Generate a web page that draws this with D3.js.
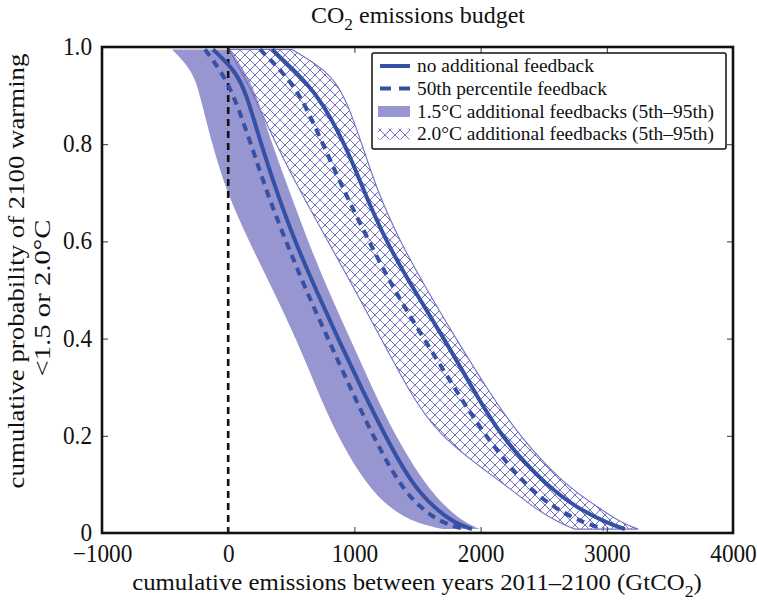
<!DOCTYPE html>
<html><head><meta charset="utf-8">
<script src="https://cdn.jsdelivr.net/npm/d3@7"></script>
<style>
html,body{margin:0;padding:0;background:#fff;}
svg{display:block;}
text{font-family:"Liberation Serif","Times New Roman",Tinos,"DejaVu Serif",serif;}
</style></head>
<body>
<svg id="chart" width="757" height="604"></svg>
<script>
// ---- data ----
const probLevels = [0.995, 0.95, 0.9, 0.8, 0.7, 0.6, 0.5, 0.4, 0.3, 0.2, 0.1, 0.05, 0.02, 0.008];
const noFeedback15   = [-120, 62, 149, 260, 387, 529, 696, 870, 1052, 1242, 1456, 1639, 1797, 1932];
const median15       = [-184, -57, 46, 181, 307, 458, 616, 791, 965, 1147, 1353, 1528, 1702, 1876];
const band15Low      = [-445, -279, -223, -128, -10, 165, 355, 537, 696, 862, 1092, 1282, 1488, 1702];
const band15High     = [14, 133, 228, 347, 490, 632, 791, 965, 1139, 1322, 1559, 1734, 1885, 1996];
const noFeedback20   = [349, 529, 714, 928, 1080, 1250, 1472, 1710, 1932, 2154, 2510, 2772, 3009, 3144];
const median20       = [252, 426, 577, 751, 925, 1116, 1314, 1551, 1789, 2035, 2344, 2589, 2827, 2978];
const band20Low      = [6, 101, 204, 379, 577, 791, 1005, 1211, 1417, 1655, 2193, 2431, 2629, 2748];
const band20High     = [505, 791, 925, 1060, 1187, 1361, 1575, 1805, 2043, 2304, 2661, 2947, 3121, 3248];
const xTickValues = [-1000, 0, 1000, 2000, 3000, 4000];
const xTickLabels = ["\u22121000", "0", "1000", "2000", "3000", "4000"];
const yTickValues = [0, 0.2, 0.4, 0.6, 0.8, 1.0];
const yTickLabels = ["0", "0.2", "0.4", "0.6", "0.8", "1.0"];
const legendLabels = ["no additional feedback", "50th percentile feedback",
  "1.5\u00b0C additional feedbacks (5th\u201395th)", "2.0\u00b0C additional feedbacks (5th\u201395th)"];

// ---- layout ----
const FONT = "'Liberation Serif', 'Times New Roman', Tinos, 'DejaVu Serif', serif";
const L = 102, R = 733, T = 47, B = 533;
const lineColor = "#3551a6", fillColor = "#9896d0", hatchColor = "#7272c2";
const svg = d3.select("#chart");
const x = d3.scaleLinear().domain([-1000, 4000]).range([L, R]);
const y = d3.scaleLinear().domain([0, 1]).range([B, T]);

const defs = svg.append("defs");
const HP = 10;
const pat = defs.append("pattern").attr("id", "hatch").attr("patternUnits", "userSpaceOnUse")
  .attr("width", HP).attr("height", HP);
pat.append("path").attr("d", `M0,0L${HP},${HP}M${HP},0L0,${HP}M-1,${HP-1}L1,${HP+1}M${HP-1},-1L${HP+1},1`)
  .attr("stroke", hatchColor).attr("stroke-width", 1).attr("fill", "none");

const rows = probLevels.map((p, i) => ({p, i}));
const curve = d3.curveBasis;
const area = (lo, hi) => d3.area().y(d => y(d.p)).x0(d => x(lo[d.i])).x1(d => x(hi[d.i])).curve(curve);
const line = (arr) => d3.line().y(d => y(d.p)).x(d => x(arr[d.i])).curve(curve);

// 1.5 band
svg.append("path").attr("d", area(band15Low, band15High)(rows)).attr("fill", fillColor);
// 2.0 hatched band
svg.append("path").attr("d", area(band20Low, band20High)(rows))
  .attr("fill", "url(#hatch)").attr("stroke", hatchColor).attr("stroke-width", 1.1);

// zero line
svg.append("line").attr("x1", x(0)).attr("x2", x(0)).attr("y1", T).attr("y2", B)
  .attr("stroke", "#111").attr("stroke-width", 2.6).attr("stroke-dasharray", "7,5");

// lines
[[noFeedback15, null], [median15, "8,6"], [noFeedback20, null], [median20, "8,6"]].forEach(([arr, dash]) => {
  svg.append("path").attr("d", line(arr)(rows)).attr("fill", "none")
    .attr("stroke", lineColor).attr("stroke-width", 4)
    .attr("stroke-dasharray", dash);
});

// axes
const gx = svg.append("g").attr("transform", `translate(0,${B})`)
  .call(d3.axisBottom(x).tickValues(xTickValues).tickFormat((d, i) => xTickLabels[i]).tickSize(-6).tickSizeOuter(0));
const gxt = svg.append("g").attr("transform", `translate(0,${T})`)
  .call(d3.axisTop(x).tickValues(xTickValues).tickFormat("").tickSize(-6).tickSizeOuter(0));
const gy = svg.append("g").attr("transform", `translate(${L},0)`)
  .call(d3.axisLeft(y).tickValues(yTickValues).tickFormat((d, i) => yTickLabels[i]).tickSize(-6).tickSizeOuter(0));
const gyr = svg.append("g").attr("transform", `translate(${R},0)`)
  .call(d3.axisRight(y).tickValues(yTickValues).tickFormat("").tickSize(-6).tickSizeOuter(0));
[gx, gxt, gy, gyr].forEach(g => {
  g.select(".domain").remove();
  g.selectAll(".tick line").attr("stroke", "#333").attr("stroke-width", 1);
  g.attr("font-family", FONT).attr("font-size", 25);
});
gx.selectAll(".tick text").attr("y", 0).attr("dy", 0)
  .attr("transform", "translate(0,29) scale(0.93,1)")
  .style("font-family", FONT).attr("font-size", 25).attr("fill", "#111");
gy.selectAll(".tick text").attr("x", 0).attr("dy", "0.3em")
  .attr("transform", "translate(-10,0) scale(0.93,1)")
  .style("font-family", FONT).attr("font-size", 25).attr("fill", "#111").attr("text-anchor", "end");

// frame
svg.append("rect").attr("x", L).attr("y", T).attr("width", R - L).attr("height", B - T)
  .attr("fill", "none").attr("stroke", "#111").attr("stroke-width", 2.6);

// text helper: parts = [[str, isSub]], fitted to target length
function label(xp, yp, rot, anchor, size, parts, target) {
  const g = svg.append("g");
  const t = g.append("text").attr("text-anchor", anchor).attr("font-size", size)
    .style("font-family", FONT).attr("fill", "#111");
  let prevSub = false;
  parts.forEach(([s, sub]) => {
    const ts = t.append("tspan").text(s);
    if (sub) ts.attr("font-size", size * 0.72).attr("dy", size * 0.28);
    else if (prevSub) ts.attr("dy", -size * 0.28);
    prevSub = sub;
  });
  const len = t.node().getComputedTextLength();
  const sx = target ? target / len : 1;
  g.attr("transform", `translate(${xp},${yp}) rotate(${rot}) scale(${sx},1)`);
  return g;
}

// title
label(418, 23, 0, "middle", 24, [["CO", false], ["2", true], [" emissions budget", false]], null);
// x label
label(417, 590, 0, "middle", 24, [["cumulative emissions between years 2011\u20132100 (GtCO", false], ["2", true], [")", false]], 570);
// y label
label(24, 271, -90, "middle", 24, [["cumulative probability of 2100 warming", false]], 435);
label(50, 298, -90, "middle", 24, [["<1.5 or 2.0\u00b0C", false]], 157);

// legend
const lg = svg.append("g");
lg.append("rect").attr("x", 372).attr("y", 53).attr("width", 354).attr("height", 96).attr("rx", 2)
  .attr("fill", "#fff").attr("stroke", "#111").attr("stroke-width", 1.5);
const rowY = [66, 88.5, 111.5, 134];
const legendWidths = [177, 190, 297, 297];
lg.append("line").attr("x1", 380).attr("x2", 410).attr("y1", rowY[0]).attr("y2", rowY[0])
  .attr("stroke", lineColor).attr("stroke-width", 4);
lg.append("line").attr("x1", 380).attr("x2", 412).attr("y1", rowY[1]).attr("y2", rowY[1])
  .attr("stroke", lineColor).attr("stroke-width", 4).attr("stroke-dasharray", "11,8");
lg.append("rect").attr("x", 378).attr("y", rowY[2] - 5.5).attr("width", 32).attr("height", 11).attr("fill", fillColor);
lg.append("rect").attr("x", 378).attr("y", rowY[3] - 5.5).attr("width", 32).attr("height", 11).attr("fill", "url(#hatch)");
legendLabels.forEach((s, i) => {
  label(417, rowY[i] + 6, 0, "start", 18.5, [[s, false]], legendWidths[i]);
});
</script>
</body></html>
